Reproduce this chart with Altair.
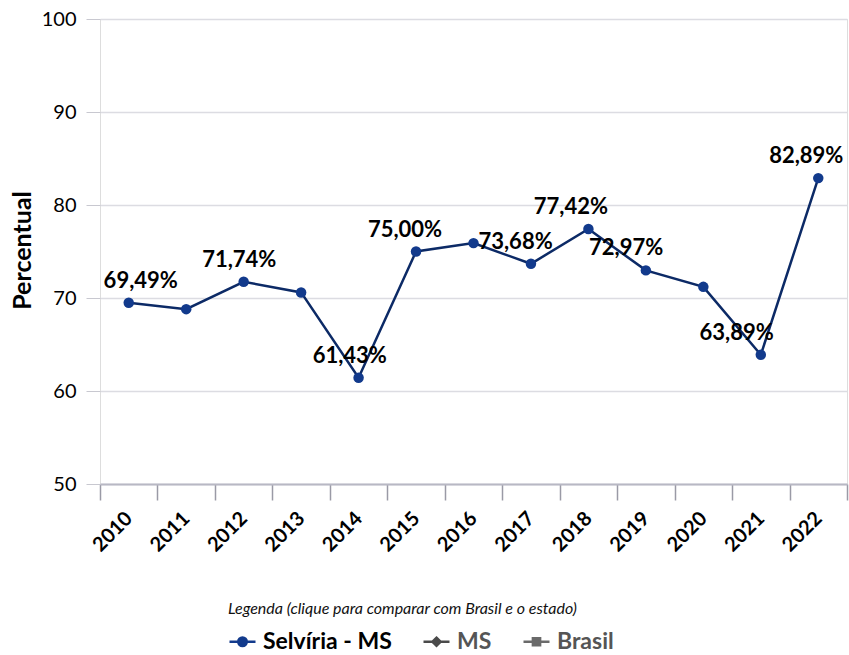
import altair as alt
import pandas as pd

years = ["2010", "2011", "2012", "2013", "2014", "2015", "2016",
         "2017", "2018", "2019", "2020", "2021", "2022"]
values = [69.49, 68.8, 71.74, 70.6, 61.43, 75.00, 75.9,
          73.68, 77.42, 72.97, 71.2, 63.89, 82.89]
labels = ["69,49%", "", "71,74%", "", "61,43%", "75,00%", "",
          "73,68%", "77,42%", "72,97%", "", "63,89%", "82,89%"]
series_names = ["Selvíria - MS", "MS", "Brasil"]
series_colors = ["#123a8c", "#4a4a4a", "#6a6a6a"]
series_shapes = [
    "M-1,0H1M0.33,0A0.33,0.33 0 1,1 -0.33,0A0.33,0.33 0 1,1 0.33,0",
    "M-1,0H1M0,-0.32L0.32,0L0,0.32L-0.32,0Z",
    "M-1,0H1M-0.28,-0.28H0.28V0.28H-0.28Z",
]

df = pd.DataFrame({"Ano": years, "Valor": values, "Rotulo": labels,
                   "Serie": ["Selvíria - MS"] * len(years)})

FONT = "Lato"

x_enc = alt.X("Ano:N", sort=years, title=None,
              scale=alt.Scale(paddingInner=0, paddingOuter=0),
              axis=alt.Axis(labelAngle=-45, labelFontSize=20, labelFontWeight="bold",
                            labelColor="#000", labelFont=FONT, tickBand="extent",
                            tickSize=16, tickColor="#9a9aa6", tickWidth=1.5,
                            domainColor="#b8b8c4", domainWidth=2,
                            grid=False, gridColor="transparent",
                            labelPadding=8, labelOffset=-7))
y_enc = alt.Y("Valor:Q", title="Percentual",
              scale=alt.Scale(domain=[50, 100]),
              axis=alt.Axis(values=[50, 60, 70, 80, 90, 100], labelFontSize=20,
                            labelFont=FONT, labelColor="#000", domain=False,
                            tickSize=14, tickColor="#c8c8d0", gridColor="#dcdce2",
                            gridWidth=1.5, labelPadding=10,
                            titleFont=FONT, titleFontSize=25, titleFontWeight="bold",
                            titleColor="#000", titleX=-78, titleY=231,
                            titleAngle=-90, titleAlign="center",
                            titleBaseline="middle"))

base = alt.Chart(df).encode(x=x_enc, y=y_enc)

line = base.mark_line(color="#0c2a66", strokeWidth=2.5)
pts = base.mark_point(filled=True, size=110, color="#123a8c", opacity=1)

txt = base.transform_filter(alt.datum.Rotulo != "").mark_text(
    dy=-22, fontSize=22, fontWeight="bold", font=FONT, color="#000",
    dx=alt.ExprRef("datum.Ano == '2010' ? 12 : (datum.Ano == '2022' ? -12 : -2.2 * (toNumber(datum.Ano) - 2010))"),
).encode(text="Rotulo:N")

legend = alt.Legend(
    title="Legenda (clique para comparar com Brasil e o estado)",
    orient="none", legendX=128, legendY=582, direction="horizontal",
    titleFont=FONT, titleFontSize=16, titleFontStyle="italic",
    titleFontWeight="normal", titleColor="#111", titlePadding=10, titleLimit=800,
    labelFont=FONT, labelFontSize=23, labelFontWeight="bold", labelLimit=400,
    labelColor={"expr": "datum.label === 'Selvíria - MS' ? '#000' : '#555'"},
    symbolSize=676, symbolStrokeWidth=2.4, symbolOpacity=1,
    columnPadding=26, labelOffset=6, symbolOffset=0)

leg_layer = base.transform_filter("false").mark_point(filled=True, size=0, opacity=1).encode(
    color=alt.Color("Serie:N", scale=alt.Scale(domain=series_names, range=series_colors),
                    legend=legend),
    stroke=alt.Stroke("Serie:N", scale=alt.Scale(domain=series_names, range=series_colors),
                      legend=legend),
    shape=alt.Shape("Serie:N", scale=alt.Scale(domain=series_names, range=series_shapes),
                    legend=legend),
)

chart = alt.layer(line, pts, txt, leg_layer).properties(
    width=747, height=465,
    padding={"left": 100, "top": 19, "right": 2, "bottom": 171},
    autosize=alt.AutoSizeParams(type="none"),
).configure_view(stroke="transparent", strokeWidth=0
).configure_axisY(domain=False
).configure(font=FONT)

chart.save("out.html", embed_options={"renderer": "svg", "actions": False})
